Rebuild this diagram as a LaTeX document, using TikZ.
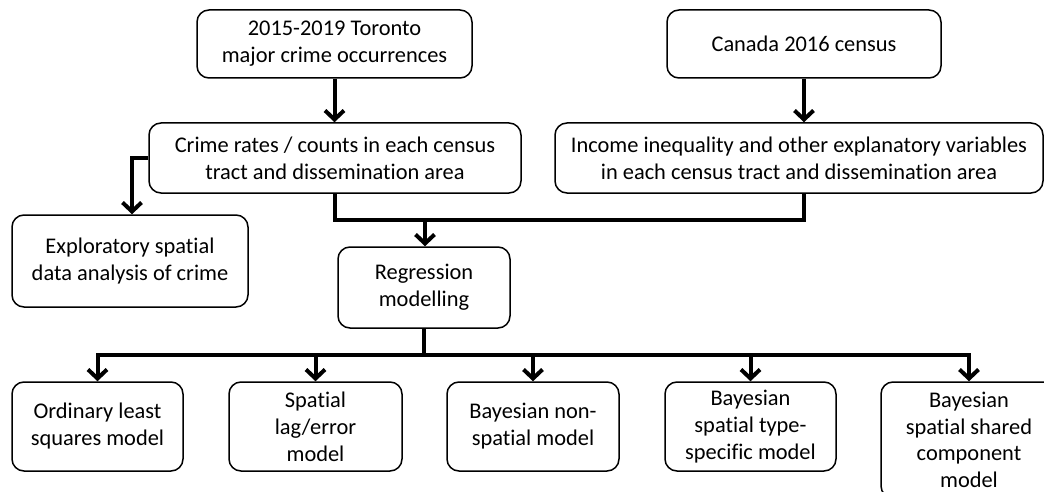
\documentclass[tikz,border=0pt]{standalone}
\usepackage{fontspec}
\setmainfont[Ligatures=CommonOff]{Carlito}
\usetikzlibrary{arrows.meta}
\begin{document}
\begin{tikzpicture}[x=1pt,y=-1pt,
 box/.style={draw, line width=1.5pt, rounded corners=12pt, align=center, font=\fontsize{22.4}{27}\selectfont, inner sep=0pt},
 conn/.style={line width=4pt},
 arr/.style={conn, -{Straight Barb[length=9pt,width=19pt,line width=4pt]}}
]
\useasboundingbox (0,0) rectangle (1044,492);
\clip (0,0) rectangle (1044,492);
\node[box, minimum width=275pt, minimum height=68pt] (toronto) at (334.5,44) {2015-2019 Toronto\\major crime occurrences};
\node[box, minimum width=274pt, minimum height=68pt] (canada) at (804,44) {Canada 2016 census};
\node[box, minimum width=372pt, minimum height=70pt] (crime) at (335,158) {Crime rates / counts in each census\\tract and dissemination area};
\node[box, minimum width=488pt, minimum height=70pt] (income) at (799,158) {Income inequality and other explanatory variables\\in each census tract and dissemination area};
\node[box, minimum width=236pt, minimum height=92pt] (expl) at (130,261) {Exploratory spatial\\data analysis of crime};
\node[box, minimum width=172pt, minimum height=81pt] (reg) at (424,287.5) {Regression\\modelling};
\node[box, minimum width=171pt, minimum height=89pt] (ols) at (97.5,426.5) {Ordinary least\\squares model};
\node[box, minimum width=173pt, minimum height=89pt] (lag) at (315.5,426.5) {Spatial\\lag/error\\model};
\node[box, minimum width=172pt, minimum height=89pt] (nonsp) at (533,426.5) {Bayesian non-\\spatial model};
\node[box, minimum width=171pt, minimum height=89pt] (type) at (750.5,426.5) {Bayesian\\spatial type-\\specific model};
\node[box, minimum width=176pt, minimum height=116pt, font=\fontsize{22.4}{26.5}\selectfont] (shared) at (969,440) {Bayesian\\spatial shared\\component\\model};
\coordinate (join) at (425,220);
\coordinate (bus) at (424,355);
\coordinate (lft) at (132,158);
\draw[arr] (toronto.south) -- (toronto.south |- crime.north);
\draw[arr] (canada.south) -- (canada.south |- income.north);
\draw[conn] (crime.south) |- (join);
\draw[conn] (income.south -| canada.south) |- (join);
\draw[arr] (join) -- (join |- reg.north);
\draw[arr] (crime.west) -| (expl.north -| lft);
\draw[conn] (reg.south) -- (bus);
\draw[arr] (bus) -| (ols.north);
\draw[arr] (bus) -| (lag.north);
\draw[arr] (bus) -| (nonsp.north);
\draw[arr] (bus) -| (type.north);
\draw[arr] (bus) -| (shared.north);
\end{tikzpicture}
\end{document}
